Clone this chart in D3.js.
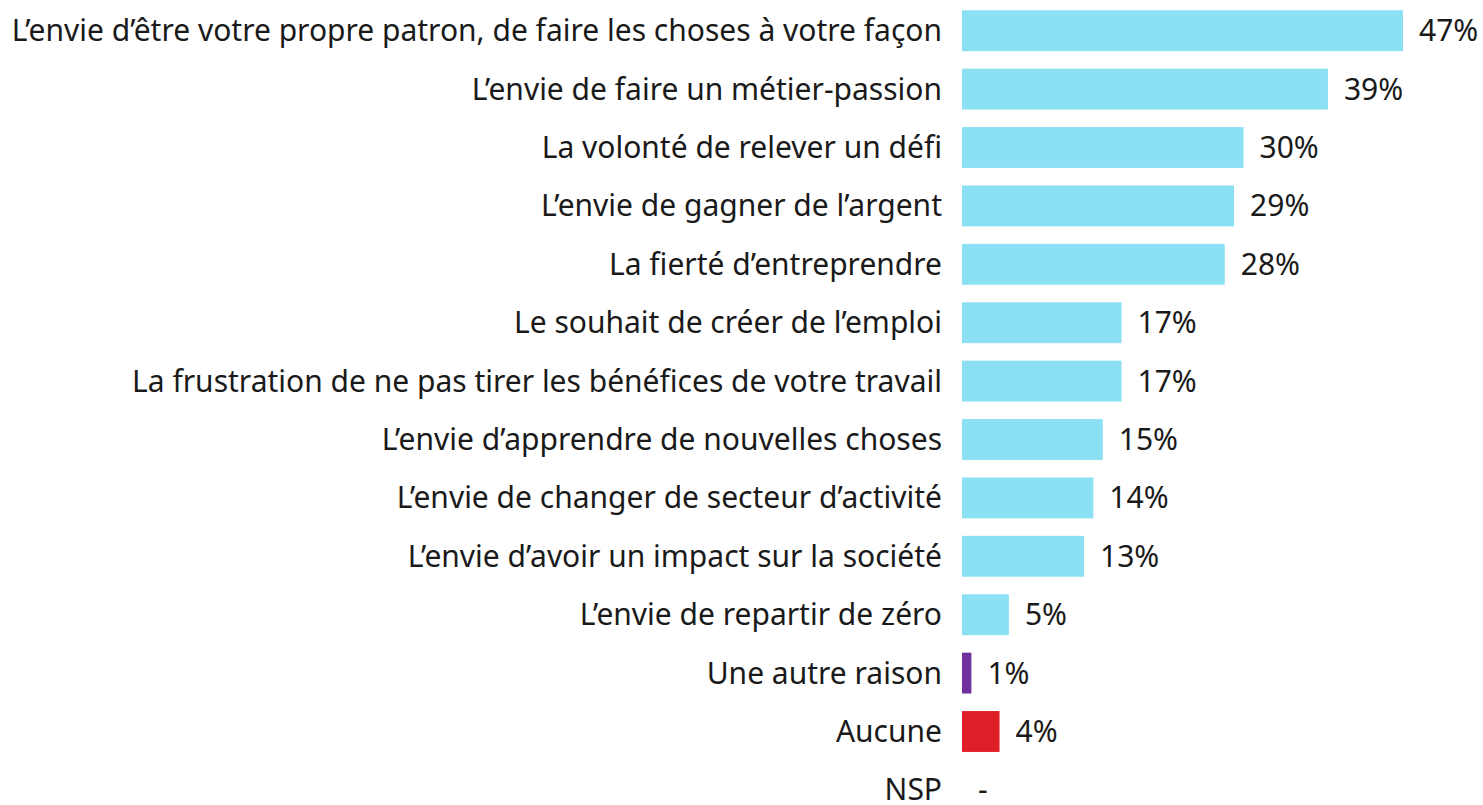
<!DOCTYPE html>
<html>
<head>
<meta charset="utf-8">
<script src="https://cdn.jsdelivr.net/npm/d3@7"></script>
<style>
  html, body { margin: 0; padding: 0; background: #ffffff; }
  svg { display: block; }
  text { font-family: "Noto Sans", "Open Sans", sans-serif; fill: #1a1a1a; }
</style>
</head>
<body>
<svg id="chart" width="1483" height="805"></svg>
<script>
// Raisons de créer son entreprise (% de répondants)
const categories = [
  "L’envie d’être votre propre patron, de faire les choses à votre façon",
  "L’envie de faire un métier-passion",
  "La volonté de relever un défi",
  "L’envie de gagner de l’argent",
  "La fierté d’entreprendre",
  "Le souhait de créer de l’emploi",
  "La frustration de ne pas tirer les bénéfices de votre travail",
  "L’envie d’apprendre de nouvelles choses",
  "L’envie de changer de secteur d’activité",
  "L’envie d’avoir un impact sur la société",
  "L’envie de repartir de zéro",
  "Une autre raison",
  "Aucune",
  "NSP"
];
const values = [47, 39, 30, 29, 28, 17, 17, 15, 14, 13, 5, 1, 4, null];
const valueLabels = ["47%", "39%", "30%", "29%", "28%", "17%", "17%", "15%", "14%", "13%", "5%", "1%", "4%", "-"];
const barColors = ["#8ce0f4", "#8ce0f4", "#8ce0f4", "#8ce0f4", "#8ce0f4", "#8ce0f4", "#8ce0f4",
                   "#8ce0f4", "#8ce0f4", "#8ce0f4", "#8ce0f4", "#7030a0", "#df1f27", "#8ce0f4"];

const rows = categories.map((c, i) => ({ cat: c, v: values[i], label: valueLabels[i], color: barColors[i] }));

const svg = d3.select("#chart");
const x0 = 962;

const x = d3.scaleLinear().domain([0, 47]).range([x0, 1403]);
const y = d3.scaleBand()
  .domain(categories)
  .range([1.5, 1.5 + 58.4 * categories.length])
  .paddingInner(0.3)
  .paddingOuter(0.15);

const fontSize = 30;

// bars
svg.append("g").selectAll("rect")
  .data(rows.filter(d => d.v != null))
  .join("rect")
  .attr("x", x(0))
  .attr("y", d => y(d.cat))
  .attr("width", d => x(d.v) - x(0))
  .attr("height", y.bandwidth())
  .attr("fill", d => d.color);

// category labels
svg.append("g").selectAll("text")
  .data(rows)
  .join("text")
  .attr("x", x0 - 20)
  .attr("y", d => y(d.cat) + y.bandwidth() / 2)
  .attr("dy", "0.35em")
  .attr("text-anchor", "end")
  .style("font-size", fontSize + "px")
  .text(d => d.cat);

// value labels
svg.append("g").selectAll("text")
  .data(rows)
  .join("text")
  .attr("x", d => x(d.v == null ? 0 : d.v) + 16)
  .attr("y", d => y(d.cat) + y.bandwidth() / 2)
  .attr("dy", "0.35em")
  .attr("text-anchor", "start")
  .style("font-size", fontSize + "px")
  .text(d => d.label);
</script>
</body>
</html>
